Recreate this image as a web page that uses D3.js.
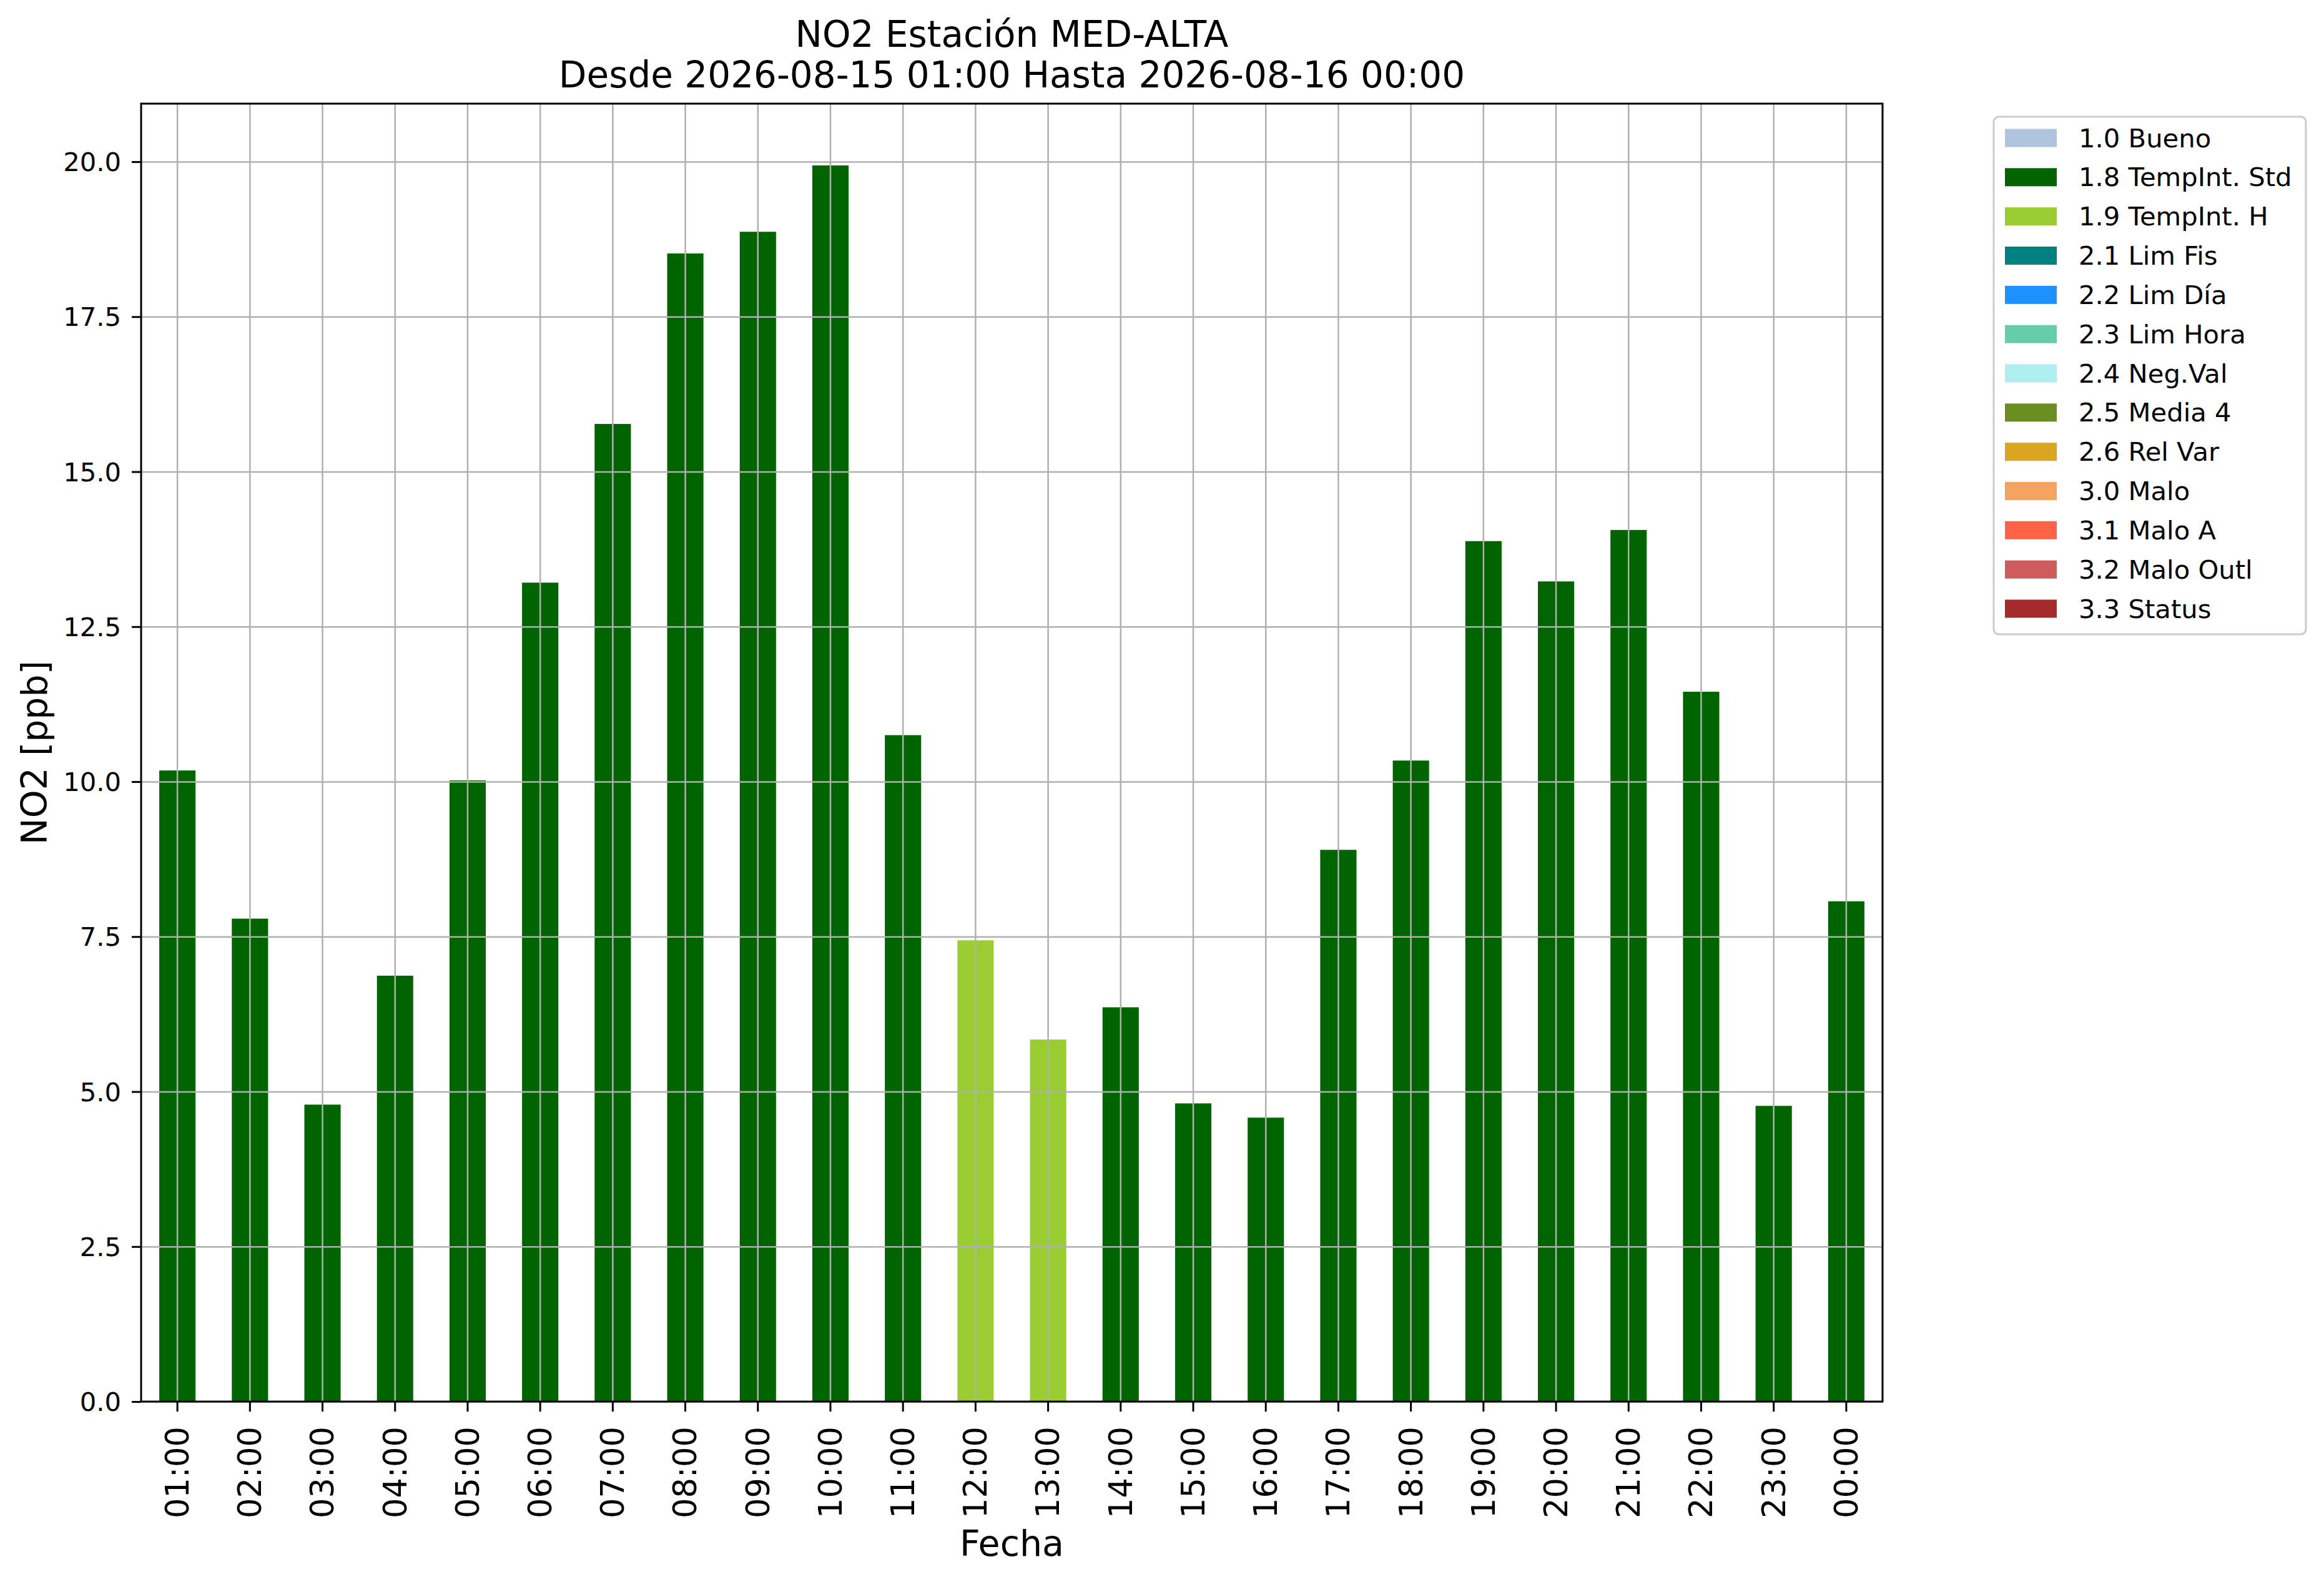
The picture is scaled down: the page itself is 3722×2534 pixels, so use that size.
<!doctype html>
<html>
<head>
    <meta charset="UTF-8">
    <title>NO2 MED-ALTA</title>
    <script src="https://cdn.jsdelivr.net/npm/d3@7"></script>
    <style>
        body { margin: 0; background: #fff; }
        text { font-family: "DejaVu Sans", sans-serif; fill: #000; }
    </style>
</head>
<body>

    <div id="chart"></div>

    <script>

        var width = 3722,
            height = 2534;

        // datos
        var horas = ['01:00','02:00','03:00','04:00','05:00','06:00','07:00','08:00','09:00','10:00','11:00','12:00',
                     '13:00','14:00','15:00','16:00','17:00','18:00','19:00','20:00','21:00','22:00','23:00','00:00'];
        var valores = [10.18, 7.79, 4.79, 6.87, 10.02, 13.21, 15.77, 18.52, 18.87, 19.94, 10.75, 7.44,
                       5.84, 6.36, 4.81, 4.58, 8.90, 10.34, 13.88, 13.23, 14.06, 11.45, 4.77, 8.07];
        var flags = ['1.8','1.8','1.8','1.8','1.8','1.8','1.8','1.8','1.8','1.8','1.8','1.9',
                     '1.9','1.8','1.8','1.8','1.8','1.8','1.8','1.8','1.8','1.8','1.8','1.8'];

        var yTicks = [0, 2.5, 5, 7.5, 10, 12.5, 15, 17.5, 20];

        var codigos = ['1.0','1.8','1.9','2.1','2.2','2.3','2.4','2.5','2.6','3.0','3.1','3.2','3.3'];
        var nombres = ['1.0 Bueno','1.8 TempInt. Std','1.9 TempInt. H','2.1 Lim Fis','2.2 Lim Día','2.3 Lim Hora',
                       '2.4 Neg.Val','2.5 Media 4','2.6 Rel Var','3.0 Malo','3.1 Malo A','3.2 Malo Outl','3.3 Status'];
        var colores = ['lightsteelblue','darkgreen','yellowgreen','teal','dodgerblue','mediumaquamarine',
                       'paleturquoise','olivedrab','goldenrod','sandybrown','tomato','indianred','brown'];

        // "top" choca con window.top, por eso axTop
        var axLeft = 226, axRight = 3015, axTop = 166, axBottom = 2245;

        var color = d3.scaleOrdinal().domain(codigos).range(colores);

        var x = d3.scaleBand()
            .domain(horas)
            .range([axLeft, axRight])
            .paddingInner(0.5)
            .paddingOuter(0.25);

        var y = d3.scaleLinear()
            .domain([0, d3.max(valores) * 1.05])
            .range([axBottom, axTop]);

        var svg = d3.select("#chart")
            .append("svg")
            .attr("width", width)
            .attr("height", height)
            .append("g");

        svg.append("rect")
            .attr("width", width)
            .attr("height", height)
            .attr("fill", "#fff");

        // barras
        svg.selectAll(".bar")
            .data(valores)
            .enter()
            .append("rect")
            .attr("class", "bar")
            .attr("x", function (d, i) { return x(horas[i]); })
            .attr("width", x.bandwidth())
            .attr("y", function (d) { return y(d); })
            .attr("height", function (d) { return y(0) - y(d); })
            .attr("fill", function (d, i) { return color(flags[i]); });

        // grid encima de las barras
        var gridY = svg.append("g")
            .attr("transform", "translate(" + axLeft + ",0)")
            .call(d3.axisLeft(y).tickValues(yTicks).tickSize(-(axRight - axLeft)).tickFormat(""));
        var gridX = svg.append("g")
            .attr("transform", "translate(0," + axBottom + ")")
            .call(d3.axisBottom(x).tickSize(-(axBottom - axTop)).tickFormat(""));
        [gridY, gridX].forEach(function (g) {
            g.select(".domain").remove();
            g.selectAll("text").remove();
            g.selectAll("line")
                .style("stroke", "#b0b0b0")
                .style("stroke-width", 2.5);
        });

        // ejes
        var yAxis = svg.append("g")
            .attr("transform", "translate(" + axLeft + ",0)")
            .call(d3.axisLeft(y).tickValues(yTicks).tickSize(15).tickPadding(17).tickFormat(d3.format(".1f")));
        yAxis.select(".domain").remove();
        yAxis.selectAll("line").style("stroke", "#000").style("stroke-width", 3);
        yAxis.selectAll("text")
            .style("font-size", "41.7px")
            .attr("dy", "0.35em");

        var xAxis = svg.append("g")
            .attr("transform", "translate(0," + axBottom + ")")
            .call(d3.axisBottom(x).tickSize(16));
        xAxis.select(".domain").remove();
        xAxis.selectAll("line").style("stroke", "#000").style("stroke-width", 3);
        xAxis.selectAll("text")
            .style("font-size", "51px")
            .attr("y", 0)
            .attr("dy", "0.35em")
            .attr("transform", "translate(0,40) rotate(-90)")
            .style("text-anchor", "end");

        // marco
        svg.append("rect")
            .attr("x", axLeft)
            .attr("y", axTop)
            .attr("width", axRight - axLeft)
            .attr("height", axBottom - axTop)
            .attr("fill", "none")
            .style("stroke", "#000")
            .style("stroke-width", 3);

        // titulos
        svg.append("text")
            .text("NO2 Estación MED-ALTA")
            .attr("x", (axLeft + axRight) / 2)
            .attr("y", 75)
            .style("text-anchor", "middle")
            .style("font-size", "58px");
        svg.append("text")
            .text("Desde 2026-08-15 01:00 Hasta 2026-08-16 00:00")
            .attr("x", (axLeft + axRight) / 2)
            .attr("y", 140)
            .style("text-anchor", "middle")
            .style("font-size", "58px");

        svg.append("text")
            .text("Fecha")
            .attr("x", (axLeft + axRight) / 2)
            .attr("y", 2492)
            .style("text-anchor", "middle")
            .style("font-size", "57px");

        svg.append("text")
            .text("NO2 [ppb]")
            .attr("transform", "translate(75," + (axTop + axBottom) / 2 + ") rotate(-90)")
            .style("text-anchor", "middle")
            .style("font-size", "57px");

        // leyenda
        var legend = svg.append("g")
            .attr("transform", "translate(3193,187)");

        legend.append("rect")
            .attr("width", 500)
            .attr("height", 829)
            .attr("rx", 8)
            .attr("fill", "#fff")
            .style("stroke", "#cccccc")
            .style("stroke-width", 3);

        var rowY = d3.scaleLinear().domain([0, codigos.length - 1]).range([34, 788]);

        var items = legend.selectAll(".item")
            .data(codigos)
            .enter()
            .append("g")
            .attr("class", "item")
            .attr("transform", function (d, i) { return "translate(0," + rowY(i) + ")"; });

        items.append("rect")
            .attr("x", 18)
            .attr("y", -14.5)
            .attr("width", 83)
            .attr("height", 29)
            .attr("fill", function (d) { return color(d); });

        items.append("text")
            .text(function (d, i) { return nombres[i]; })
            .attr("x", 136)
            .attr("dy", "0.35em")
            .style("font-size", "41.7px");

    </script>

</body>
</html>
